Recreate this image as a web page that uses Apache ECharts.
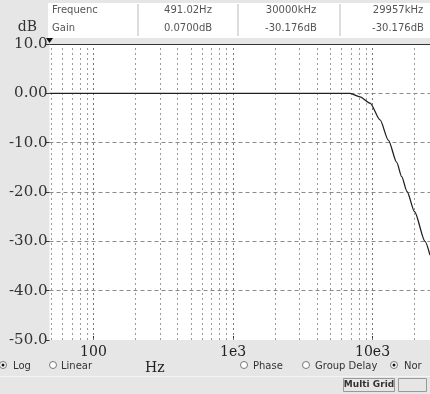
<!DOCTYPE html>
<html>
<head>
<meta charset="utf-8">
<script src="https://cdn.jsdelivr.net/npm/echarts@6/dist/echarts.min.js"></script>
<style>
html,body{margin:0;padding:0;background:#e6e6e6;}
#chart{width:430px;height:394px;}
</style>
</head>
<body>
<div id="chart"></div>
<script>
// ---- data ----
const freqHz = [48.4, 100, 1000, 5000, 6900, 8130, 9600, 11320, 12980, 14900, 16180, 17660, 20000, 23770, 25800];
const gainDb = [0, 0, 0, 0, 0, -0.7, -2.0, -5.4, -9.5, -14.0, -16.9, -19.9, -24.0, -30.0, -32.8];
const xMin = 48.4, xMax = 25800;
const xTickValues = [100, 1000, 10000];
const xTickLabels = ['100', '1e3', '10e3'];
const yTickLabels = ['-50.0', '-40.0', '-30.0', '-20.0', '-10.0', '0.00', '10.0'];
const minorGridHz = [50, 60, 70, 80, 90, 200, 300, 400, 500, 600, 700, 800, 900,
  2000, 3000, 4000, 5000, 6000, 7000, 8000, 9000, 20000];
const majorGridHz = [100, 1000, 10000];
const headerRow1 = ['Frequenc', '491.02Hz', '30000kHz', '29957kHz'];
const headerRow2 = ['Gain', '0.0700dB', '-30.176dB', '-30.176dB'];

const chart = echarts.init(document.getElementById('chart'), null, {renderer: 'canvas'});

const serif = '"DejaVu Serif", "Liberation Serif", serif';
const sans = '"DejaVu Sans", "Liberation Sans", sans-serif';

function txt(text, x, y, opts) {
  opts = opts || {};
  return {
    type: 'text', x: x, y: y, z: 100,
    style: {
      text: text,
      font: opts.font || ('10px ' + sans),
      fill: opts.fill || '#333',
      align: opts.align || 'left',
      verticalAlign: 'middle'
    }
  };
}
function radio(cx, cy, on) {
  const els = [{
    type: 'circle', z: 100, shape: {cx: cx, cy: cy, r: 3.5},
    style: {fill: '#fff', stroke: '#777', lineWidth: 1}
  }];
  if (on) els.push({type: 'circle', z: 101, shape: {cx: cx, cy: cy, r: 1.5}, style: {fill: '#111'}});
  return els;
}

const colCenters = [null, 188, 291, 398];
const graphics = [
  {type: 'rect', z: 90, shape: {x: 48, y: 3, width: 382, height: 35}, style: {fill: '#fff'}},
  {type: 'line', z: 95, shape: {x1: 138, y1: 4, x2: 138, y2: 36}, style: {stroke: '#bbb', lineWidth: 1}},
  {type: 'line', z: 95, shape: {x1: 238, y1: 4, x2: 238, y2: 36}, style: {stroke: '#bbb', lineWidth: 1}},
  {type: 'line', z: 95, shape: {x1: 340, y1: 4, x2: 340, y2: 36}, style: {stroke: '#bbb', lineWidth: 1}},
  txt(headerRow1[0], 52, 10, {font: '10px ' + sans, fill: '#555'}),
  txt(headerRow2[0], 52, 28, {font: '10px ' + sans, fill: '#555'}),
  txt('dB', 37, 27, {font: '14px ' + serif, fill: '#333', align: 'right'}),
  {type: 'polygon', z: 100, shape: {points: [[46, 38], [53, 38], [49.5, 43]]}, style: {fill: '#111'}},
  txt('Log', 13, 366, {font: '10px ' + sans}),
  txt('Linear', 61, 366, {font: '10px ' + sans}),
  txt('Hz', 145, 368, {font: '14px ' + serif, fill: '#222'}),
  txt('Phase', 253, 366, {font: '10px ' + sans}),
  txt('Group Delay', 315, 366, {font: '10px ' + sans}),
  txt('Nor', 404, 366, {font: '10px ' + sans}),
  {type: 'line', z: 95, shape: {x1: 0, y1: 376.5, x2: 430, y2: 376.5}, style: {stroke: '#f4f4f4', lineWidth: 1}},
  {type: 'rect', z: 95, shape: {x: 343.5, y: 378.5, width: 51, height: 13}, style: {fill: '#e6e6e6', stroke: '#999', lineWidth: 1}},
  {type: 'rect', z: 95, shape: {x: 398.5, y: 378.5, width: 28, height: 13}, style: {fill: '#e6e6e6', stroke: '#999', lineWidth: 1}},
  txt('Multi Grid', 369, 385, {font: 'bold 9px ' + sans, fill: '#333', align: 'center'})
];
for (let i = 1; i < 4; i++) {
  graphics.push(txt(headerRow1[i], colCenters[i], 10, {font: '10px ' + sans, fill: '#555', align: 'center'}));
  graphics.push(txt(headerRow2[i], colCenters[i], 28, {font: '10px ' + sans, fill: '#555', align: 'center'}));
}
[[3, 365, true], [53, 365, false], [244, 365, false], [306, 365, false], [394, 365, true]].forEach(function (r) {
  radio(r[0], r[1], r[2]).forEach(function (e) { graphics.push(e); });
});

const gridLines = [];
minorGridHz.forEach(function (f) {
  gridLines.push({xAxis: f, lineStyle: {color: '#9a9a9a', type: [2, 3], width: 1}});
});
majorGridHz.forEach(function (f) {
  gridLines.push({xAxis: f, lineStyle: {color: '#777', type: [2, 3], width: 1}});
});
gridLines.push({yAxis: 10, lineStyle: {color: '#333', type: 'solid', width: 1.2}});

chart.setOption({
  backgroundColor: '#e6e6e6',
  animation: false,
  grid: {left: 49.5, right: 0, top: 44, bottom: 54, show: true, backgroundColor: '#fff', borderWidth: 0},
  xAxis: {
    type: 'log', logBase: 10, min: xMin, max: xMax,
    axisLine: {show: false, onZero: false},
    axisTick: {show: true, inside: true, length: 4, customValues: xTickValues, lineStyle: {color: '#333'}},
    splitLine: {show: false},
    minorTick: {show: false},
    axisLabel: {
      customValues: xTickValues, margin: 5,
      fontFamily: '"DejaVu Serif", serif', fontSize: 14, color: '#222',
      formatter: function (v) {
        const i = xTickValues.findIndex(function (t) { return Math.abs(Math.log10(t) - Math.log10(v)) < 1e-6; });
        return i >= 0 ? xTickLabels[i] : '';
      }
    }
  },
  yAxis: {
    type: 'value', min: -50, max: 10, interval: 10,
    axisLine: {show: false},
    axisTick: {show: true, length: 4, lineStyle: {color: '#333'}},
    axisLabel: {
      margin: 2, fontFamily: '"DejaVu Serif", serif', fontSize: 15, color: '#333',
      formatter: function (v) { return yTickLabels[Math.round((v + 50) / 10)]; }
    },
    splitLine: {show: true, showMinLine: false, lineStyle: {color: '#8a8a8a', type: [4, 3], width: 1}}
  },
  series: [{
    type: 'line',
    data: freqHz.map(function (f, i) { return [f, gainDb[i]]; }),
    showSymbol: false,
    smooth: 0.25,
    smoothMonotone: 'x',
    lineStyle: {color: '#222', width: 1.3},
    z: 10,
    markLine: {
      silent: true, symbol: 'none', label: {show: false}, z: 3,
      data: gridLines
    }
  }],
  graphic: graphics
});
</script>
</body>
</html>
